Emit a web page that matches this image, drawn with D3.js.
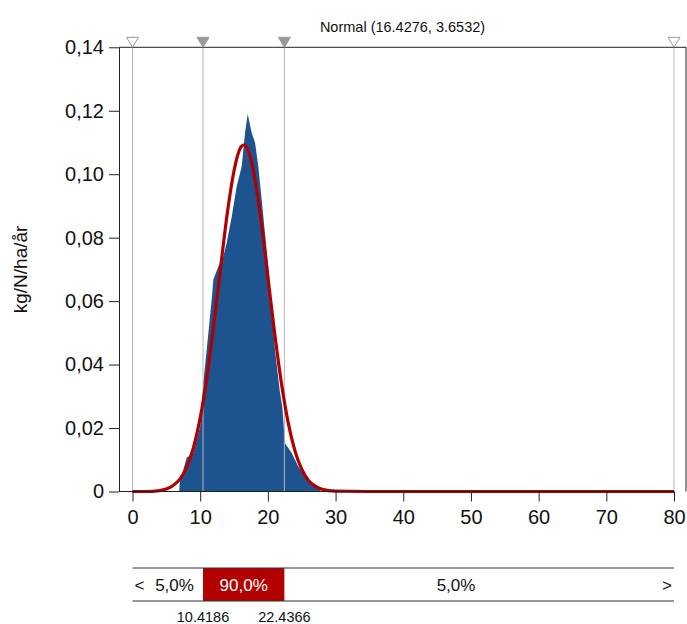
<!DOCTYPE html>
<html>
<head>
<meta charset="utf-8">
<script src="https://cdn.jsdelivr.net/npm/d3@7"></script>
<style>
  body { margin: 0; background: #fff; }
  text { font-family: "Liberation Sans", Arial, sans-serif; fill: #111; }
</style>
</head>
<body>
<div id="svganchor"></div>
<script>
// values
let xTicks = [0, 10, 20, 30, 40, 50, 60, 70, 80];
let yTicks = [0, 0.02, 0.04, 0.06, 0.08, 0.10, 0.12, 0.14];

// simulated density (blue area)
let densX = [6.9, 7.0, 7.5, 8.0, 9.0, 10.0, 10.46, 10.96, 11.7, 11.94, 12.68, 13.41, 13.92, 14.66, 15.39, 16.13, 16.62, 17.02,
             17.61, 18.1, 18.59, 19.09, 19.57, 20.06, 20.46, 21.05, 21.79, 22.13, 22.53, 23.52, 24.5, 25.48, 26.47, 27.21, 27.95];
let densY = [0, 0.0031, 0.0068, 0.0106, 0.0121, 0.0204, 0.0342, 0.0446, 0.0604, 0.0667, 0.0709, 0.0740, 0.0784, 0.0866, 0.0961, 0.1024, 0.1130, 0.1190,
             0.1130, 0.1100, 0.1024, 0.0919, 0.0815, 0.0709, 0.0604, 0.0446, 0.0311, 0.0267, 0.0152, 0.0121, 0.0078, 0.0047, 0.0027, 0.0011, 0];

// fitted normal curve (red line)
let fitX = [0, 2, 4, 5, 6, 7, 8, 9, 10, 11, 12, 13, 14, 15, 16, 16.43, 17, 18, 19, 20, 21, 22, 23, 24, 25, 26, 27, 28, 30, 35, 80];
let fitY = [0, 0, 0.0003, 0.0008, 0.0019, 0.0039, 0.0076, 0.0138, 0.0232, 0.0362, 0.0524, 0.0703, 0.0876, 0.1011, 0.1085, 0.1092, 0.1079,
            0.0996, 0.0853, 0.0677, 0.0499, 0.0342, 0.0217, 0.0128, 0.0070, 0.0035, 0.0017, 0.0007, 0.0001, 0, 0];

let markers = [0, 10.4186, 22.4366, 80];
let markerFilled = [false, true, true, false];
let bandLabels = ["5,0%", "90,0%", "5,0%"];
let bandValues = ["10.4186", "22.4366"];
let title = "Normal (16.4276, 3.6532)";
let yLabel = "kg/N/ha/år";

let width = 687;
let height = 624;
let plot = ({left: 119, right: 686, top: 47.3, bottom: 491.5});

let svg = d3.select("#svganchor")
    .append("svg")
    .attr("width", width)
    .attr("height", height);

let xScale = d3.scaleLinear().domain([0, 80]).range([132.5, 674]);
let yScale = d3.scaleLinear().domain([0, 0.14]).range([plot.bottom, plot.top]);

let dens = densX.map((x, i) => ({x: x, y: densY[i]}));
let fit = fitX.map((x, i) => ({x: x, y: fitY[i]}));

// blue area
svg.append("path")
    .datum(dens)
    .attr("fill", "#1d538f")
    .attr("d", d3.area()
        .x(d => xScale(d.x))
        .y0(yScale(0))
        .y1(d => yScale(d.y)));

// grey marker lines
svg.selectAll(".mline")
    .data(markers)
    .enter().append("line")
    .attr("class", "mline")
    .attr("x1", d => xScale(d)).attr("x2", d => xScale(d))
    .attr("y1", plot.top).attr("y2", plot.bottom)
    .attr("stroke", "#b4b4b4")
    .attr("stroke-width", 1);

// red fitted curve
svg.append("path")
    .datum(fit)
    .attr("fill", "none")
    .attr("stroke", "#b20000")
    .attr("stroke-width", 3.2)
    .attr("stroke-linejoin", "round")
    .attr("d", d3.line()
        .curve(d3.curveMonotoneX)
        .x(d => xScale(d.x))
        .y(d => yScale(d.y)));

// frame
svg.append("line")
    .attr("x1", plot.left).attr("x2", plot.right)
    .attr("y1", plot.top).attr("y2", plot.top)
    .attr("stroke", "#222");
svg.append("line")
    .attr("x1", plot.right).attr("x2", plot.right)
    .attr("y1", plot.top).attr("y2", plot.bottom)
    .attr("stroke", "#222");
svg.append("line")
    .attr("x1", plot.left).attr("x2", xScale(80))
    .attr("y1", plot.bottom).attr("y2", plot.bottom)
    .attr("stroke", "#222");

// triangles at the top
svg.selectAll(".tri")
    .data(markers)
    .enter().append("path")
    .attr("class", "tri")
    .attr("d", d => {
        let x = xScale(d);
        return "M" + (x - 6) + "," + (plot.top - 10) + "L" + (x + 6) + "," + (plot.top - 10) + "L" + x + "," + plot.top + "Z";
    })
    .attr("fill", (d, i) => markerFilled[i] ? "#999" : "#fff")
    .attr("stroke", "#999")
    .attr("stroke-width", 1);

// axes
let yAxis = d3.axisLeft(yScale)
    .tickValues(yTicks)
    .tickSize(10)
    .tickSizeOuter(0)
    .tickPadding(5)
    .tickFormat(d => d === 0 ? "0" : d3.format(".2f")(d).replace(".", ","));

let yG = svg.append("g")
    .attr("transform", "translate(" + plot.left + ",0)")
    .call(yAxis);

let xAxis = d3.axisBottom(xScale)
    .tickValues(xTicks)
    .tickSize(10)
    .tickSizeOuter(0)
    .tickPadding(8);

let xG = svg.append("g")
    .attr("transform", "translate(0," + plot.bottom + ")")
    .call(xAxis);
xG.select(".domain").remove();

svg.selectAll(".tick line").attr("stroke", "#222");
yG.select(".domain").attr("stroke", "#222");
svg.selectAll(".tick text")
    .style("font-family", "'Liberation Sans', Arial, sans-serif")
    .style("font-size", "20px")
    .attr("fill", "#111");

// y label
svg.append("text")
    .attr("transform", "translate(27," + ((plot.top + plot.bottom) / 2) + ") rotate(-90)")
    .style("text-anchor", "middle")
    .style("font-size", "19px")
    .text(yLabel);

// title
svg.append("text")
    .attr("x", (plot.left + plot.right) / 2)
    .attr("y", 32)
    .style("text-anchor", "middle")
    .style("font-size", "14.5px")
    .text(title);

// bottom band
let bandTop = 568;
let bandBottom = 601;
svg.append("rect")
    .attr("x", xScale(markers[1]))
    .attr("y", bandTop)
    .attr("width", xScale(markers[2]) - xScale(markers[1]))
    .attr("height", bandBottom - bandTop)
    .attr("fill", "#b20000");

[bandTop, bandBottom].forEach(y => {
    svg.append("line")
        .attr("x1", xScale(0)).attr("x2", xScale(80))
        .attr("y1", y).attr("y2", y)
        .attr("stroke", "#333")
        .attr("stroke-width", 1.2);
});

let bandMid = (bandTop + bandBottom) / 2 + 6;
svg.append("text")
    .attr("x", xScale(0) + 2).attr("y", bandMid)
    .style("font-size", "17px")
    .text("<");
svg.append("text")
    .attr("x", xScale(80) - 2).attr("y", bandMid)
    .style("text-anchor", "end")
    .style("font-size", "17px")
    .text(">");

let bandCenters = [174.5, (xScale(markers[1]) + xScale(markers[2])) / 2, 456];
svg.selectAll(".bandlab")
    .data(bandLabels)
    .enter().append("text")
    .attr("class", "bandlab")
    .attr("x", (d, i) => bandCenters[i])
    .attr("y", bandMid)
    .style("text-anchor", "middle")
    .style("font-size", "17px")
    .style("fill", (d, i) => i === 1 ? "#fff" : "#111")
    .text(d => d);

svg.selectAll(".bandval")
    .data(bandValues)
    .enter().append("text")
    .attr("class", "bandval")
    .attr("x", (d, i) => xScale(markers[i + 1]))
    .attr("y", 622)
    .style("text-anchor", "middle")
    .style("font-size", "14.5px")
    .text(d => d);
</script>
</body>
</html>
